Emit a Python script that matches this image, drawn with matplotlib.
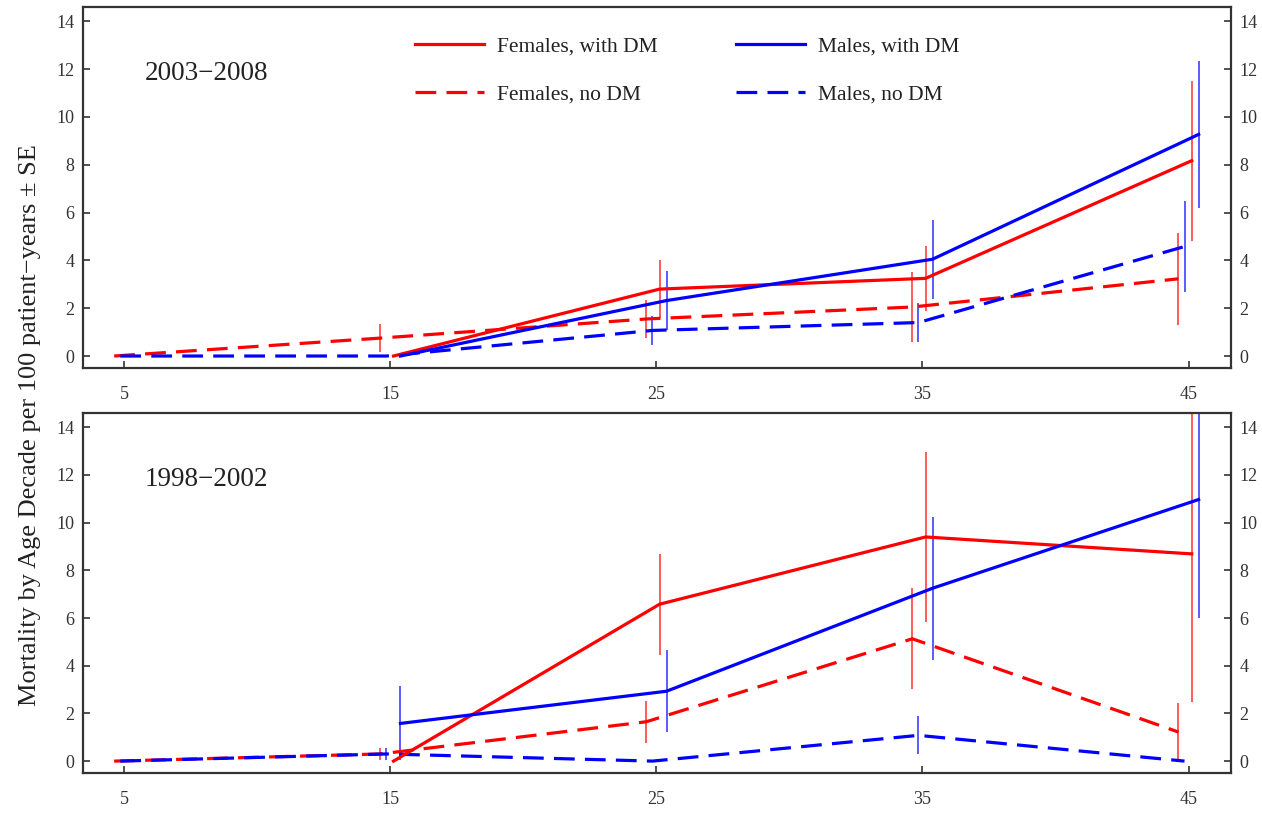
import matplotlib
matplotlib.use("Agg")
import matplotlib.pyplot as plt
import numpy as np

plt.rcParams['font.family'] = ['Liberation Serif', 'DejaVu Serif']
plt.rcParams['mathtext.fontset'] = 'stix'

# Age decades (x positions)
ages_nodm = [5, 15, 25, 35, 45]
ages_dm = [15, 25, 35, 45]
x_ticks = [5, 15, 25, 35, 45]
y_ticks = [0, 2, 4, 6, 8, 10, 12, 14]

# 2003-2008
top_f_dm = [0.0, 2.80, 3.25, 8.17]
top_f_dm_se = [0.0, 1.20, 1.35, 3.35]
top_m_dm = [0.0, 2.32, 4.05, 9.27]
top_m_dm_se = [0.0, 1.24, 1.65, 3.08]
top_f_no = [0.0, 0.75, 1.55, 2.05, 3.23]
top_f_no_se = [0.0, 0.60, 0.80, 1.47, 1.93]
top_m_no = [0.0, 0.0, 1.07, 1.40, 4.58]
top_m_no_se = [0.0, 0.0, 0.61, 0.82, 1.90]

# 1998-2002
bot_f_dm = [0.0, 6.58, 9.40, 8.69]
bot_f_dm_se = [0.0, 2.11, 3.55, 6.20]
bot_m_dm = [1.58, 2.93, 7.25, 10.97]
bot_m_dm_se = [1.55, 1.73, 3.00, 4.97]
bot_f_no = [0.0, 0.30, 1.65, 5.13, 1.22]
bot_f_no_se = [0.0, 0.25, 0.89, 2.12, 1.22]
bot_m_no = [0.0, 0.30, 0.0, 1.08, 0.0]
bot_m_no_se = [0.0, 0.25, 0.0, 0.80, 0.0]

labels = ["Females, with DM", "Females, no DM", "Males, with DM", "Males, no DM"]
RED = "#ff0000"
BLUE = "#0000ff"
off = {"f_no": -0.38, "m_no": -0.15, "f_dm": 0.12, "m_dm": 0.38}
dash = (0, (6.5, 3.2))

fig = plt.figure(figsize=(12.62, 8.15), dpi=100)
ax_top = fig.add_axes([0.0658, 0.5485, 0.9097, 0.4429])
ax_bot = fig.add_axes([0.0658, 0.0515, 0.9097, 0.4418])


def draw(ax, f_dm, f_dm_se, m_dm, m_dm_se, f_no, f_no_se, m_no, m_no_se, title):
    handles = {}
    series = [
        ("f_no", ages_nodm, f_no, f_no_se, RED, dash),
        ("m_no", ages_nodm, m_no, m_no_se, BLUE, dash),
        ("f_dm", ages_dm, f_dm, f_dm_se, RED, '-'),
        ("m_dm", ages_dm, m_dm, m_dm_se, BLUE, '-'),
    ]
    for key, xs, ys, se, col, ls in series:
        xx = np.array(xs, dtype=float) + off[key]
        yy = np.array(ys)
        ss = np.array(se)
        mask = ss > 0
        ax.errorbar(xx[mask], yy[mask], yerr=ss[mask], fmt='none',
                    ecolor=col, elinewidth=1.2, alpha=0.75, capsize=0, zorder=2)
        ln, = ax.plot(xx, yy, color=col, linestyle=ls, linewidth=2.3, zorder=3)
        handles[key] = ln
    ax.set_xlim(3.45, 46.6)
    ax.set_ylim(-0.5, 14.6)
    ax.set_xticks(x_ticks)
    ax.set_xticklabels([str(v) for v in x_ticks])
    ax.set_yticks(y_ticks)
    ax.set_yticklabels([str(v) for v in y_ticks])
    ax.tick_params(axis='y', which='both', left=True, right=True,
                   labelleft=True, labelright=True, direction='in',
                   length=5, width=1.2, colors='#333333', labelsize=13, pad=6)
    ax.tick_params(axis='x', direction='in', length=5, width=1.2,
                   colors='#333333', labelsize=13, pad=13)
    for sp in ax.spines.values():
        sp.set_color('#333333')
        sp.set_linewidth(1.6)
    ax.text(0.054, 0.815, title, transform=ax.transAxes, fontsize=19.5,
            va='center', ha='left', color='#222222')
    return handles


h = draw(ax_top, top_f_dm, top_f_dm_se, top_m_dm, top_m_dm_se,
         top_f_no, top_f_no_se, top_m_no, top_m_no_se, "2003\u22122008")
draw(ax_bot, bot_f_dm, bot_f_dm_se, bot_m_dm, bot_m_dm_se,
     bot_f_no, bot_f_no_se, bot_m_no, bot_m_no_se, "1998\u22122002")

leg = ax_top.legend([h["f_dm"], h["f_no"], h["m_dm"], h["m_no"]], labels,
                    ncol=2, loc='upper left', bbox_to_anchor=(0.289, 0.918),
                    frameon=False, fontsize=15.5, handlelength=3.2,
                    handletextpad=0.6, columnspacing=3.65, labelspacing=1.3,
                    borderpad=0, borderaxespad=0)
for t in leg.get_texts():
    t.set_color('#222222')

fig.text(0.024, 0.479, "Mortality by Age Decade per 100 patient\u2212years \u00b1 SE",
         rotation=90, va='center', ha='center', fontsize=19, color='#222222')

fig.savefig("out.png", dpi=100, facecolor='white')
